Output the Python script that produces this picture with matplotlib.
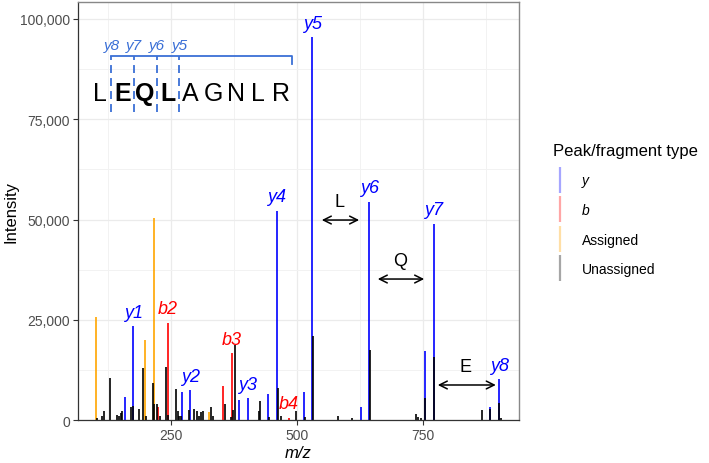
import matplotlib
matplotlib.use('Agg')
import matplotlib.pyplot as plt
from matplotlib.lines import Line2D
from matplotlib.ticker import FuncFormatter, MultipleLocator, FixedLocator

plt.rcParams['font.family'] = ['Liberation Sans', 'DejaVu Sans']

# y-type fragment peaks (incl. NH3 losses)
y_mz = [158.1, 175.1, 271.2, 288.2, 385.2, 402.2, 442.2, 459.3,
        513.3, 530.3, 626.4, 643.4, 754.4, 771.4, 883.5, 900.5]
y_int = [5900, 23400, 7100, 7500, 5000, 5500, 6600, 52200,
         7100, 95400, 3200, 54400, 17200, 48900, 3400, 10200]

# b-type fragment peaks
b_mz = [225.1, 243.1, 353.2, 371.2, 484.3]
b_int = [3200, 24300, 8500, 16700, 700]

# other assigned peaks
asg_mz = [102.1, 198.4, 215.7, 325.4]
asg_int = [25800, 20000, 50400, 2100]

# unassigned peaks
un_mz = [103.2, 112.5, 116.5, 129.6, 142.3, 146.2, 150.8, 153.4, 170.6, 174.0,
         185.9, 195.0, 199.8, 213.7, 216.9, 221.6, 228.2, 240.1, 244.6, 259.9,
         263.3, 266.5, 269.2, 285.1, 296.2, 301.0, 306.2, 309.5, 314.1, 329.4,
         333.3, 356.5, 368.5, 373.6, 377.6, 424.6, 426.6, 444.4, 461.7, 467.7,
         497.4, 515.9, 531.2, 580.8, 608.5, 644.8, 736.1, 740.7, 745.4, 754.6,
         772.4, 866.5, 883.0, 900.8, 904.8]
un_int = [600, 1100, 2200, 10500, 1300, 1100, 1800, 2200, 3300, 3500,
          2900, 13100, 1000, 9200, 4000, 4000, 1000, 13400, 1200, 7700,
          2300, 1000, 1000, 2600, 2900, 2200, 1100, 2000, 2300, 3300,
          1100, 4000, 800, 2600, 18700, 2300, 4800, 800, 8100, 1000,
          2200, 800, 20900, 1000, 700, 17500, 1500, 900, 600, 5600,
          15700, 2500, 2800, 4200, 500]

# labelled fragments
lab_names = ['y1', 'y2', 'y3', 'y4', 'y5', 'y6', 'y7', 'y8', 'b2', 'b3', 'b4']
lab_mz = [175.1, 288.2, 402.2, 459.3, 530.3, 643.4, 771.4, 900.5, 243.1, 371.2, 484.3]
lab_int = [23400, 7500, 5500, 52200, 95400, 54400, 48900, 10200, 24300, 16700, 700]

# residue gaps between consecutive y ions
gap_names = ['L', 'Q', 'E']
gap_start = [549, 660, 779]
gap_end = [623, 752, 894]
gap_y = [49900, 35200, 8800]

sequence = list('LEQLAGNLR')
bold_res = [1, 2, 3]
cut_names = ['y8', 'y7', 'y6', 'y5']

blue, red, orange, black = '#0000FF', '#FF0000', '#FFA500', '#000000'
bracket_col = '#3A6FD6'

fig = plt.figure(figsize=(7.09, 4.64), dpi=100)
ax = fig.add_axes([0.1096, 0.092, 0.6224, 0.9022])

lw = 1.2
ax.vlines(asg_mz, 0, asg_int, colors=orange, lw=lw)
ax.vlines(b_mz, 0, b_int, colors=red, lw=lw)
ax.vlines(y_mz, 0, y_int, colors=blue, lw=lw)
ax.vlines(un_mz, 0, un_int, colors=black, lw=lw)

for name, x, h in zip(lab_names, lab_mz, lab_int):
    col = blue if name[0] == 'y' else red
    ax.text(x, h + 3500, name, color=col, style='italic', fontsize=13,
            ha='center', va='center')

for name, x0, x1, yy in zip(gap_names, gap_start, gap_end, gap_y):
    ax.annotate('', xy=(x1, yy), xytext=(x0, yy),
                arrowprops=dict(arrowstyle='<->', lw=1.1, color='black',
                                mutation_scale=14, shrinkA=0, shrinkB=0))
    ax.text((x0 + x1) / 2 - 2, yy + 4600, name, fontsize=13, ha='center', va='center')

# peptide sequence with cleavage bracket
seq_x0, seq_step = 109, 44.9
for i, aa in enumerate(sequence):
    ax.text(seq_x0 + i * seq_step, 79800, aa, fontsize=18, ha='center', va='baseline',
            fontweight='bold' if i in bold_res else 'normal')

cut_x = [seq_x0 + (i + 0.5) * seq_step for i in range(len(cut_names))]
br_right = seq_x0 + (len(sequence) - 0.5) * seq_step
ax.plot([cut_x[0], br_right, br_right], [90850, 90850, 88750], color=bracket_col, lw=1.3)
ax.vlines(cut_x, 76700, 90850, colors=bracket_col, lw=1.3, linestyles=(0, (4.4, 2.8)))
for name, x in zip(cut_names, cut_x):
    ax.text(x + 1, 93600, name, color=bracket_col, style='italic', fontsize=11,
            ha='center', va='center')

ax.set_xlim(65, 940)
ax.set_ylim(0, 104300)
ax.xaxis.set_major_locator(FixedLocator([250, 500, 750]))
ax.xaxis.set_minor_locator(FixedLocator([125, 375, 625, 875]))
ax.yaxis.set_major_locator(MultipleLocator(25000))
ax.yaxis.set_minor_locator(MultipleLocator(12500))
ax.yaxis.set_major_formatter(FuncFormatter(lambda v, p: f'{v:,.0f}'))
ax.grid(which='major', color='#EBEBEB', lw=0.9)
ax.grid(which='minor', color='#F2F2F2', lw=0.7)
ax.set_axisbelow(True)
ax.tick_params(which='major', length=3.5, width=0.8, color='#333333',
               labelcolor='#4D4D4D', labelsize=10, pad=2)
ax.tick_params(which='minor', length=0)
for s in ['left', 'bottom']:
    ax.spines[s].set_color('#333333')
    ax.spines[s].set_linewidth(0.9)
for s in ['top', 'right']:
    ax.spines[s].set_color('#888888')
    ax.spines[s].set_linewidth(1.0)

ax.set_ylabel('Intensity', fontsize=12, labelpad=1)
ax.set_xlabel('m/z', fontsize=12, style='italic', labelpad=2)

handles = [Line2D([], [], marker='|', ls='', ms=19, mew=1.6, color=c, alpha=0.35)
           for c in [blue, red, orange, black]]
leg = ax.legend(handles, ['y', 'b', 'Assigned', 'Unassigned'], title='Peak/fragment type',
                loc='upper left', bbox_to_anchor=(546 / 709, 1 - 137 / 464),
                bbox_transform=fig.transFigure, frameon=False, fontsize=10,
                title_fontsize=12, alignment='left', borderpad=0,
                handlelength=1.0, handletextpad=1.1, labelspacing=1.12)
leg._legend_handle_box.sep = 0
leg.get_texts()[0].set_style('italic')
leg.get_texts()[1].set_style('italic')

fig.savefig('out.png', dpi=100)
